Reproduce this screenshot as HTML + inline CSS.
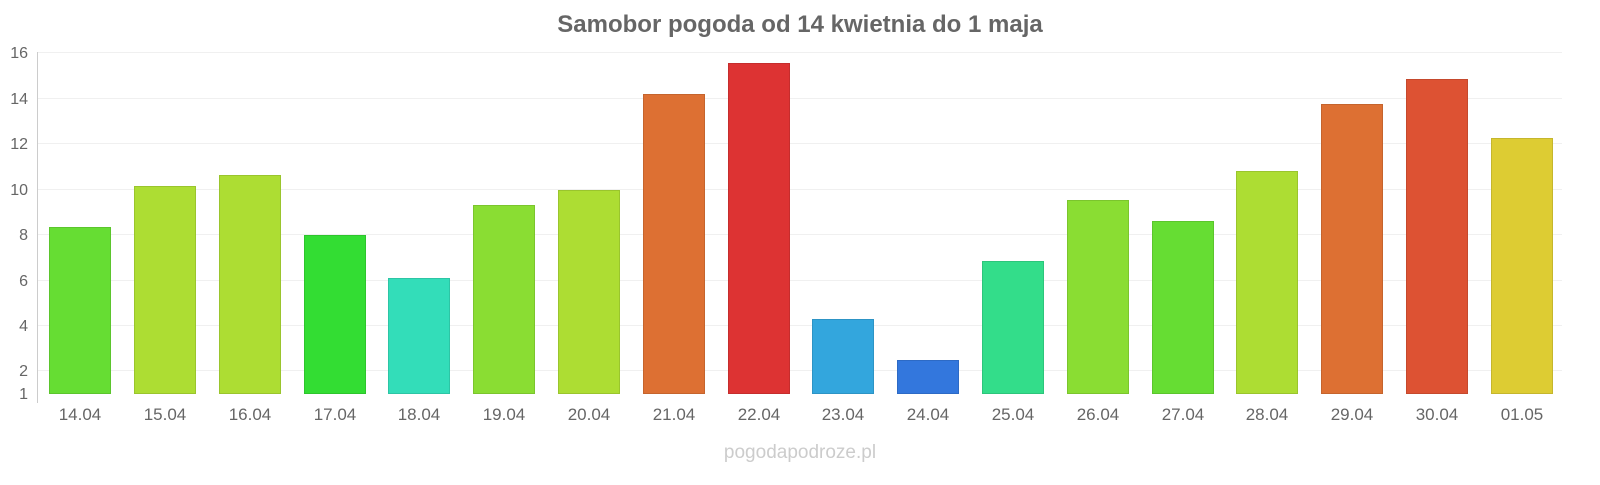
<!DOCTYPE html>
<html><head><meta charset="utf-8"><style>
body{margin:0;background:#fff;width:1600px;height:480px;overflow:hidden;font-family:"Liberation Sans",sans-serif}
</style></head><body>
<svg width="1600" height="480" xmlns="http://www.w3.org/2000/svg" font-family="Liberation Sans, sans-serif">
<text x="800" y="32" text-anchor="middle" font-size="24" font-weight="bold" fill="#666">Samobor pogoda od 14 kwietnia do 1 maja</text>
<g stroke="#f0f0f0" stroke-width="1">
<line x1="38" x2="1562" y1="52.5" y2="52.5"/><line x1="38" x2="1562" y1="98.5" y2="98.5"/><line x1="38" x2="1562" y1="143.5" y2="143.5"/><line x1="38" x2="1562" y1="189.5" y2="189.5"/><line x1="38" x2="1562" y1="234.5" y2="234.5"/><line x1="38" x2="1562" y1="280.5" y2="280.5"/><line x1="38" x2="1562" y1="325.5" y2="325.5"/><line x1="38" x2="1562" y1="370.5" y2="370.5"/>
</g>
<line x1="37.5" x2="37.5" y1="52" y2="403" stroke="#ccc"/>
<g font-size="16" fill="#666" text-anchor="end">
<text x="28" y="58">16</text><text x="28" y="104">14</text><text x="28" y="149">12</text><text x="28" y="195">10</text><text x="28" y="240">8</text><text x="28" y="286">6</text><text x="28" y="331">4</text><text x="28" y="376">2</text><text x="28" y="399">1</text>
</g>
<g stroke-width="1">
<rect x="49.5" y="227.5" width="61" height="166" fill="#66dd33" stroke="#5bc52d"/>
<rect x="134.5" y="186.5" width="61" height="207" fill="#addd33" stroke="#9ac52d"/>
<rect x="219.5" y="175.5" width="61" height="218" fill="#addd33" stroke="#9ac52d"/>
<rect x="304.5" y="235.5" width="61" height="158" fill="#33dd33" stroke="#2dc52d"/>
<rect x="388.5" y="278.5" width="61" height="115" fill="#33ddb9" stroke="#2dc5a5"/>
<rect x="473.5" y="205.5" width="61" height="188" fill="#8add33" stroke="#7bc52d"/>
<rect x="558.5" y="190.5" width="61" height="203" fill="#addd33" stroke="#9ac52d"/>
<rect x="643.5" y="94.5" width="61" height="299" fill="#dd7033" stroke="#c5642d"/>
<rect x="728.5" y="63.5" width="61" height="330" fill="#dd3333" stroke="#c52d2d"/>
<rect x="812.5" y="319.5" width="61" height="74" fill="#33a6dd" stroke="#2d94c5"/>
<rect x="897.5" y="360.5" width="61" height="33" fill="#3377dd" stroke="#2d6ac5"/>
<rect x="982.5" y="261.5" width="61" height="132" fill="#33dd8a" stroke="#2dc57b"/>
<rect x="1067.5" y="200.5" width="61" height="193" fill="#8add33" stroke="#7bc52d"/>
<rect x="1152.5" y="221.5" width="61" height="172" fill="#66dd33" stroke="#5bc52d"/>
<rect x="1236.5" y="171.5" width="61" height="222" fill="#addd33" stroke="#9ac52d"/>
<rect x="1321.5" y="104.5" width="61" height="289" fill="#dd7033" stroke="#c5642d"/>
<rect x="1406.5" y="79.5" width="61" height="314" fill="#dd5233" stroke="#c5492d"/>
<rect x="1491.5" y="138.5" width="61" height="255" fill="#ddcc33" stroke="#c5b62d"/>
</g>
<g font-size="17" fill="#666" text-anchor="middle">
<text x="80" y="420">14.04</text><text x="165" y="420">15.04</text><text x="250" y="420">16.04</text><text x="335" y="420">17.04</text><text x="419" y="420">18.04</text><text x="504" y="420">19.04</text><text x="589" y="420">20.04</text><text x="674" y="420">21.04</text><text x="759" y="420">22.04</text><text x="843" y="420">23.04</text><text x="928" y="420">24.04</text><text x="1013" y="420">25.04</text><text x="1098" y="420">26.04</text><text x="1183" y="420">27.04</text><text x="1267" y="420">28.04</text><text x="1352" y="420">29.04</text><text x="1437" y="420">30.04</text><text x="1522" y="420">01.05</text>
</g>
<text x="800" y="458" text-anchor="middle" font-size="19" fill="#ccc">pogodapodroze.pl</text>
</svg>
</body></html>
